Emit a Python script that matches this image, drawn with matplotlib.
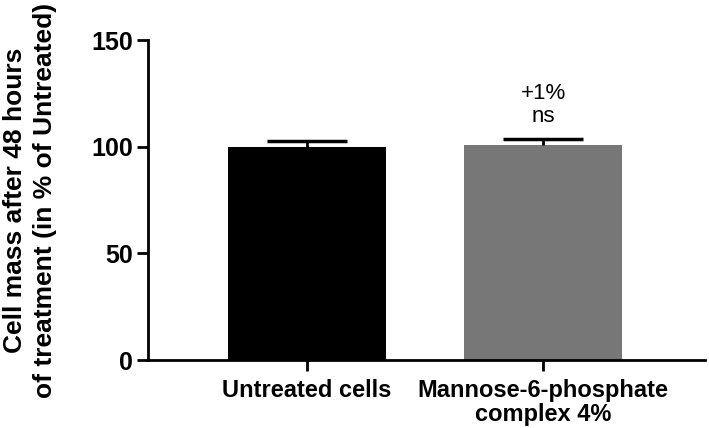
import matplotlib
matplotlib.use("Agg")
import matplotlib.pyplot as plt
import numpy as np

categories = ["Untreated cells", "Mannose-6-phosphate\ncomplex 4%"]
values = [100, 101]
errors = [2.6, 2.6]
colors = ["#000000", "#777777"]
annot_pct = ["", "+1%"]
annot_sig = ["", "ns"]
yticks = [0, 50, 100, 150]

plt.rcParams['font.family'] = ['Liberation Sans', 'DejaVu Sans']

fig = plt.figure(figsize=(7.09, 4.28), dpi=100)
ax = fig.add_axes([148/709, (428-360)/428, (705-148)/709, (360-40)/428])

x = np.arange(len(categories))
vals = np.array(values)
errs = np.array(errors)
ax.bar(x, vals, width=0.67, color=colors, zorder=2)
ax.vlines(x, vals, vals + errs, color='black', linewidth=2, zorder=3)
ax.hlines(vals + errs, x - 0.17, x + 0.17, color='black', linewidth=2.5, zorder=3)

for xi, v, e, p, s in zip(x, vals, errs, annot_pct, annot_sig):
    if p:
        ax.text(xi, v + e + 21.5, p, ha='center', va='center', fontsize=16)
    if s:
        ax.text(xi, v + e + 10.5, s, ha='center', va='center', fontsize=16)

ax.set_xlim(-0.674, 1.686)
ax.set_ylim(0, 150)
ax.set_yticks(yticks)
ax.set_xticks(x)
ax.set_xticklabels(categories, fontsize=17, fontweight='bold', linespacing=1.05)
for lab in ax.get_yticklabels():
    lab.set_fontsize(18)
    lab.set_fontweight('bold')
ax.spines['top'].set_visible(False)
ax.spines['right'].set_visible(False)
ax.spines['left'].set_linewidth(2)
ax.spines['bottom'].set_linewidth(2)
ax.tick_params(axis='y', width=2, length=8, pad=3)
ax.tick_params(axis='x', width=2, length=8, pad=6)
ax.set_ylabel("Cell mass after 48 hours\nof treatment (in % of Untreated)",
              fontsize=19, fontweight='bold', linespacing=1.35)
ax.yaxis.set_label_coords(-0.163, 0.5)

fig.savefig("out.png", dpi=100)
